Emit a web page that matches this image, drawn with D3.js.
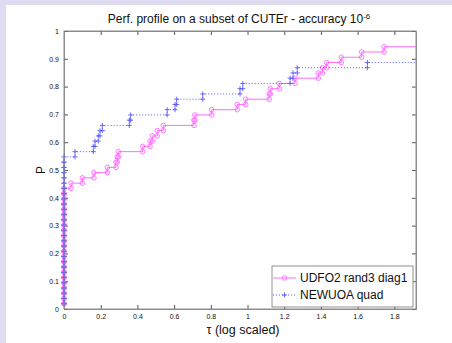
<!DOCTYPE html>
<html>
<head>
<meta charset="utf-8">
<style>
  body, html { margin: 0; padding: 0; background: #dfdcf2; }
  svg { display: block; font-family: "Liberation Sans", Arial, sans-serif; }
</style>
</head>
<body>
<svg id="svg" width="452" height="343"></svg>
<script src="https://d3js.org/d3.v7.min.js"></script>
<script>
// number of problems in the test set
const nProblems = 53

// sorted log2 performance ratios per solver
const udfoTau = [
  0,0,0,0,0,0,0,0,0,0,0,0,0,0,0,0,0,0,0,0,0,0,0,
  0.038, 0.10, 0.163, 0.236, 0.283, 0.29, 0.296, 0.429, 0.469, 0.481,
  0.508, 0.541, 0.708, 0.713, 0.805, 0.944, 0.99, 1.118, 1.124, 1.173,
  1.259, 1.386, 1.408, 1.431, 1.511, 1.622, 1.744
]
const newuoaTau = [
  0,0,0,0,0,0,0,0,0,0,0,0,0,0,0,0,0,0,0,0,0,0,0,0,0,0,0,0,0,
  0.06, 0.16, 0.169, 0.187, 0.196, 0.209, 0.356, 0.363, 0.562, 0.605,
  0.614, 0.756, 0.959, 0.974, 1.232, 1.248, 1.271, 1.653
]
const tauMax = 1.918

const xTicks = [0, 0.2, 0.4, 0.6, 0.8, 1, 1.2, 1.4, 1.6, 1.8]
const yTicks = [0, 0.1, 0.2, 0.3, 0.4, 0.5, 0.6, 0.7, 0.8, 0.9, 1]
const seriesNames = ['UDFO2 rand3 diag1', 'NEWUOA quad']

const margin = { top: 31, right: 36, bottom: 34, left: 64 }
const W = 452, H = 343
const width = W - margin.left - margin.right
const height = H - margin.top - margin.bottom

const svg = d3.select('#svg')

// white figure panel
svg.append('rect')
  .attr('x', 6).attr('y', 5)
  .attr('width', W - 6).attr('height', H - 5)
  .attr('fill', '#fff')

const x = d3.scaleLinear().domain([0, tauMax]).range([margin.left, margin.left + width])
const y = d3.scaleLinear().domain([0, 1]).range([margin.top + height, margin.top])

// stairs vertices like matlab's stairs()
function stairs(taus) {
  const pts = []
  taus.forEach((t, k) => {
    if (k > 0) pts.push([t, k / nProblems])
    pts.push([t, (k + 1) / nProblems])
  })
  return pts
}

const axisCol = '#8c8c8c'

// axes, ticks pointing inward
const gx = svg.append('g')
  .attr('transform', `translate(0, ${margin.top + height})`)
  .call(d3.axisBottom(x).tickValues(xTicks).tickFormat(d3.format('')).tickSizeInner(-4).tickSizeOuter(0).tickPadding(5))
const gxTop = svg.append('g')
  .attr('transform', `translate(0, ${margin.top})`)
  .call(d3.axisTop(x).tickValues(xTicks).tickFormat('').tickSizeInner(-4).tickSizeOuter(0))
const gy = svg.append('g')
  .attr('transform', `translate(${margin.left}, 0)`)
  .call(d3.axisLeft(y).tickValues(yTicks).tickFormat(d3.format('')).tickSizeInner(-4).tickSizeOuter(0).tickPadding(5))
const gyRight = svg.append('g')
  .attr('transform', `translate(${margin.left + width}, 0)`)
  .call(d3.axisRight(y).tickValues(yTicks).tickFormat('').tickSizeInner(-4).tickSizeOuter(0))

;[gx, gxTop, gy, gyRight].forEach(g => {
  g.select('.domain').attr('stroke', axisCol)
  g.selectAll('.tick line').attr('stroke', '#555')
  g.selectAll('text').attr('font-size', 7).attr('fill', '#111')
    .attr('font-family', '"Liberation Sans", Arial, sans-serif')
})

const profiles = [
  { name: seriesNames[0], taus: udfoTau, color: '#ff6cff', dash: null, marker: 'circle' },
  { name: seriesNames[1], taus: newuoaTau, color: '#5a5aff', dash: '1,2', marker: 'plus' }
]

const line = d3.line().x(d => x(d[0])).y(d => y(d[1]))

profiles.forEach(p => {
  const pts = stairs(p.taus)
  const full = pts.concat([[tauMax, p.taus.length / nProblems]])
  svg.append('path')
    .attr('d', line(full))
    .attr('fill', 'none')
    .attr('stroke', p.color)
    .attr('stroke-width', 1)
    .attr('stroke-dasharray', p.dash)
  const mk = svg.append('g')
  if (p.marker === 'circle') {
    mk.selectAll('circle').data(pts).join('circle')
      .attr('cx', d => x(d[0])).attr('cy', d => y(d[1]))
      .attr('r', 2.3).attr('fill', 'none')
      .attr('stroke', p.color).attr('stroke-width', 0.9)
  } else {
    mk.selectAll('path').data(pts).join('path')
      .attr('d', d => `M${x(d[0]) - 2.5},${y(d[1])}h5M${x(d[0])},${y(d[1]) - 2.5}v5`)
      .attr('stroke', p.color).attr('stroke-width', 0.9)
  }
})

// box outline
svg.append('rect')
  .attr('x', margin.left).attr('y', margin.top)
  .attr('width', width).attr('height', height)
  .attr('fill', 'none').attr('stroke', axisCol)

// title
const title = svg.append('text')
  .attr('x', margin.left + width / 2 - 1).attr('y', 23)
  .attr('text-anchor', 'middle')
  .attr('font-size', 12).attr('fill', '#111')
title.append('tspan').text('Perf. profile on a subset of CUTEr - accuracy 10')
title.append('tspan').attr('dy', -4).attr('font-size', 8).text('-6')

// axis labels
svg.append('text')
  .attr('x', margin.left + width / 2 + 3).attr('y', 334)
  .attr('text-anchor', 'middle')
  .attr('font-size', 12.5).attr('fill', '#111')
  .text('τ (log scaled)')
svg.append('text')
  .attr('transform', `translate(45, ${margin.top + height / 2}) rotate(-90)`)
  .attr('text-anchor', 'middle')
  .attr('font-size', 12).attr('fill', '#111')
  .text('P')

// legend
const lg = svg.append('g').attr('transform', 'translate(272, 266)')
lg.append('rect')
  .attr('width', 141).attr('height', 41)
  .attr('fill', '#fff').attr('stroke', '#777').attr('stroke-width', 0.8)
profiles.forEach((p, i) => {
  const cy = 12 + i * 17
  lg.append('line')
    .attr('x1', 1).attr('x2', 24).attr('y1', cy).attr('y2', cy)
    .attr('stroke', p.color).attr('stroke-dasharray', p.dash)
  if (p.marker === 'circle') {
    lg.append('circle').attr('cx', 12.5).attr('cy', cy).attr('r', 2.3)
      .attr('fill', 'none').attr('stroke', p.color).attr('stroke-width', 0.9)
  } else {
    lg.append('path').attr('d', `M10,${cy}h5M12.5,${cy - 2.5}v5`)
      .attr('stroke', p.color).attr('stroke-width', 0.9)
  }
  lg.append('text')
    .attr('x', 28).attr('y', cy + 4)
    .attr('font-size', 12).attr('fill', '#111')
    .text(p.name)
})
</script>
</body>
</html>
